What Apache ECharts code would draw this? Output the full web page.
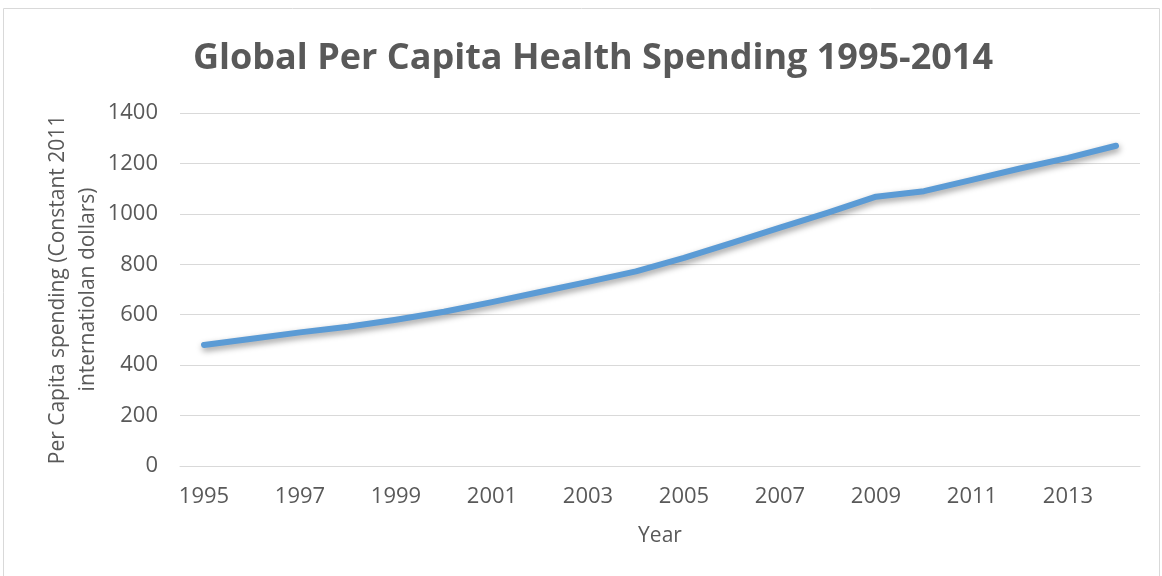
<!DOCTYPE html>
<html><head><meta charset="utf-8">
<script src="https://cdn.jsdelivr.net/npm/echarts@6/dist/echarts.min.js"></script>
<style>html,body{margin:0;padding:0;background:#fff}#c{width:1162px;height:576px}</style>
</head><body><div id="c"></div>
<script>
const years = ['1995','1996','1997','1998','1999','2000','2001','2002','2003','2004','2005','2006','2007','2008','2009','2010','2011','2012','2013','2014'];
const spending = [480,505,530,552,580,612,650,690,730,772,825,885,945,1005,1068,1090,1135,1180,1222,1270];
const yTicks = [0,200,400,600,800,1000,1200,1400];
const chart = echarts.init(document.getElementById('c'));
chart.setOption({
  animation:false,
  graphic:[{type:'rect',shape:{x:3.5,y:8.5,width:1156,height:575},style:{fill:'none',stroke:'#d9d9d9',lineWidth:1},silent:true}],
  title:{text:'Global Per Capita Health Spending 1995-2014',left:588,top:36,textAlign:'center',
    textStyle:{fontFamily:'Open Sans',fontWeight:'bold',fontSize:36,color:'#595959'}},
  grid:{left:180,right:22,top:113,bottom:110},
  xAxis:{type:'category',data:years,name:'Year',nameLocation:'middle',nameGap:60,nameMoveOverlap:false,
    nameTextStyle:{fontFamily:'Open Sans',fontSize:21,color:'#595959'},
    axisLine:{lineStyle:{color:'#d9d9d9',width:1}},axisTick:{show:false},
    axisLabel:{interval:1,margin:20,fontFamily:'Open Sans',fontSize:22,color:'#595959'}},
  yAxis:{type:'value',min:0,max:1400,interval:200,
    name:'Per Capita spending (Constant 2011\ninternatiolan dollars)',nameLocation:'middle',nameGap:77,nameRotate:90,nameMoveOverlap:false,
    nameTextStyle:{fontFamily:'Open Sans',fontSize:21,color:'#595959',lineHeight:30},
    axisLabel:{margin:22,fontFamily:'Open Sans',fontSize:22,color:'#595959',formatter:v=>yTicks.includes(v)?String(v):''},
    splitLine:{lineStyle:{color:'#d9d9d9',width:1}}},
  series:[{type:'line',data:spending,symbol:'none',
    lineStyle:{color:'#5b9bd5',width:6,cap:'round',join:'round',shadowColor:'rgba(0,0,0,0.4)',shadowBlur:6,shadowOffsetY:3,shadowOffsetX:1}}]
});
</script></body></html>
